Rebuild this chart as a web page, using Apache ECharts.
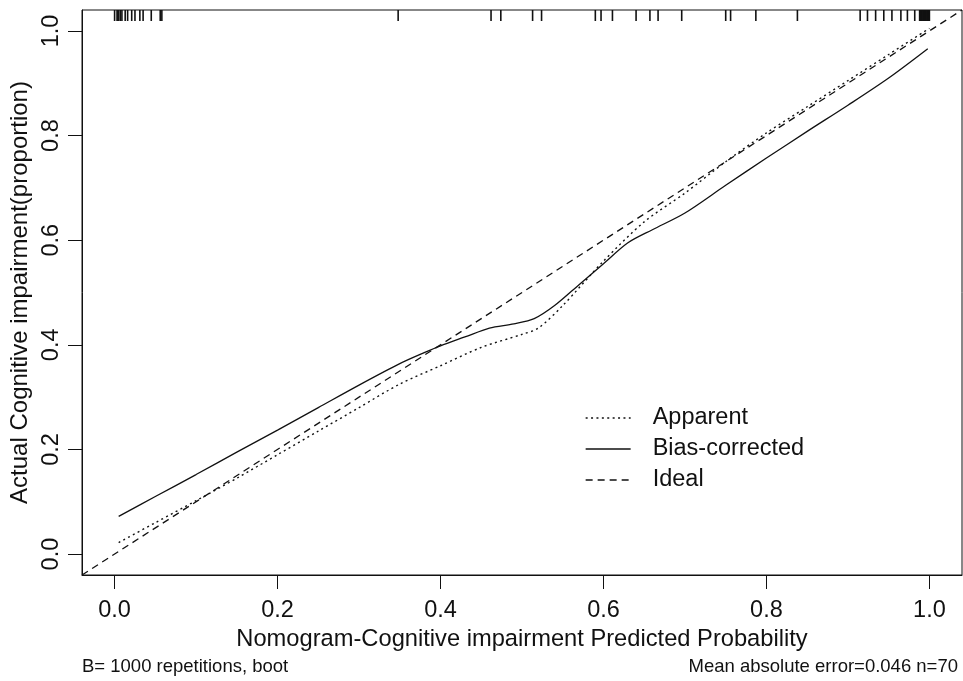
<!DOCTYPE html>
<html>
<head>
<meta charset="utf-8">
<script src="https://cdn.jsdelivr.net/npm/echarts@6/dist/echarts.min.js"></script>
<style>
  html, body { margin: 0; padding: 0; background: #fff; }
  #chart { width: 963px; height: 681px; }
</style>
</head>
<body>
<div id="chart"></div>
<script>
// calibration curves
const apparentX = [0.005, 0.05, 0.1, 0.15, 0.2, 0.25, 0.3, 0.35, 0.4, 0.45, 0.5, 0.52, 0.55, 0.6, 0.65, 0.7, 0.75, 0.8, 0.85, 0.9, 0.95, 1.0];
const apparentY = [0.022, 0.06, 0.102, 0.145, 0.19, 0.235, 0.28, 0.325, 0.36, 0.395, 0.42, 0.432, 0.475, 0.56, 0.635, 0.69, 0.75, 0.805, 0.855, 0.905, 0.955, 1.005];

const biasX = [0.005, 0.05, 0.1, 0.15, 0.2, 0.25, 0.3, 0.35, 0.38, 0.4, 0.43, 0.46, 0.49, 0.515, 0.54, 0.57, 0.6, 0.63, 0.66, 0.7, 0.75, 0.8, 0.85, 0.9, 0.95, 0.998];
const biasY = [0.072, 0.11, 0.152, 0.195, 0.237, 0.28, 0.323, 0.364, 0.385, 0.398, 0.415, 0.432, 0.44, 0.45, 0.475, 0.515, 0.555, 0.595, 0.62, 0.652, 0.705, 0.757, 0.808, 0.858, 0.91, 0.966];

const idealX = [-0.04, 1.04];

// rug of predicted probabilities along the top
const rugX = [0.0, 0.003, 0.004, 0.005, 0.007, 0.009, 0.013, 0.016, 0.021, 0.025, 0.031, 0.035, 0.045, 0.056, 0.058,
  0.348, 0.462, 0.474, 0.513, 0.524,
  0.590, 0.597, 0.611, 0.640, 0.657, 0.667, 0.696, 0.750, 0.756, 0.787, 0.838,
  0.915, 0.924, 0.934, 0.944, 0.954, 0.965, 0.973, 0.982,
  0.988, 0.989, 0.990, 0.991, 0.992, 0.993, 0.994, 0.995, 0.996, 0.997, 0.998, 0.999, 1.0];

const tickValues = [0, 0.2, 0.4, 0.6, 0.8, 1.0];
const axisMin = -0.04;
const axisMax = 1.04;

const ink = '#111';
const font = 'Liberation Sans, Arial, sans-serif';

const chart = echarts.init(document.getElementById('chart'));

const zip = (xs, ys) => xs.map((x, i) => [x, ys[i]]);

const option = {
    animation: false,
    backgroundColor: '#fff',
    color: [ink, ink, ink],
    textStyle: { fontFamily: font, color: ink },
    grid: {
        left: 82, right: 1, top: 10, bottom: 106,
        outerBoundsMode: 'none',
        containLabel: false,
        show: true, borderColor: ink, borderWidth: 1
    },
    xAxis: {
        type: 'value',
        min: axisMin, max: axisMax,
        name: 'Nomogram-Cognitive impairment Predicted Probability',
        nameLocation: 'middle',
        nameGap: 46,
        nameTextStyle: { fontSize: 23.7, color: ink, fontFamily: font },
        axisLine: { show: true, onZero: false, lineStyle: { color: ink, width: 1 } },
        axisTick: { show: true, length: 14, customValues: tickValues, lineStyle: { color: ink } },
        axisLabel: {
            customValues: tickValues, margin: 24, fontSize: 23.5, color: ink, fontFamily: font,
            formatter: v => v.toFixed(1)
        },
        splitLine: { show: false }
    },
    yAxis: {
        type: 'value',
        min: axisMin, max: axisMax,
        name: 'Actual Cognitive impairment(proportion)',
        nameLocation: 'middle',
        nameRotate: 90,
        nameGap: 30,
        nameTextStyle: { fontSize: 24, color: ink, fontFamily: font },
        axisLine: { show: true, onZero: false, lineStyle: { color: ink, width: 1 } },
        axisTick: { show: true, length: 14, customValues: tickValues, lineStyle: { color: ink } },
        axisLabel: {
            customValues: tickValues, margin: 18, rotate: 90, fontSize: 23.5, color: ink, fontFamily: font,
            formatter: v => v.toFixed(1)
        },
        splitLine: { show: false }
    },
    legend: {
        data: ['Apparent', 'Bias-corrected', 'Ideal'],
        orient: 'vertical',
        left: 585, top: 406,
        padding: 0,
        itemWidth: 45, itemHeight: 14, itemGap: 7,
        itemStyle: { opacity: 0 },
        lineStyle: { width: 1.3 },
        textStyle: { fontSize: 23.5, lineHeight: 21, color: ink, fontFamily: font, padding: [0, 0, 0, 17] }
    },
    series: [
        {
            name: 'Apparent', type: 'line', data: zip(apparentX, apparentY),
            showSymbol: false, symbol: 'none', smooth: 0.3,
            itemStyle: { color: ink },
            lineStyle: { color: ink, width: 1.4, type: [2, 3.4] }
        },
        {
            name: 'Bias-corrected', type: 'line', data: zip(biasX, biasY),
            showSymbol: false, symbol: 'none', smooth: 0.3,
            itemStyle: { color: ink },
            lineStyle: { color: ink, width: 1.3, type: 'solid' }
        },
        {
            name: 'Ideal', type: 'line', data: zip(idealX, idealX),
            showSymbol: false, symbol: 'none', clip: true,
            itemStyle: { color: ink },
            lineStyle: { color: ink, width: 1.3, type: [7, 5] }
        },
        {
            type: 'custom', name: 'rug', silent: true,
            data: rugX.map(x => [x, axisMax]),
            renderItem: (params, api) => {
                const p = api.coord([api.value(0), api.value(1)]);
                return {
                    type: 'line',
                    shape: { x1: p[0], y1: p[1], x2: p[0], y2: p[1] + 11 },
                    style: { stroke: ink, lineWidth: 1.6 }
                };
            }
        }
    ],
    graphic: [
        {
            type: 'text', left: 82, top: 657,
            style: { text: 'B= 1000 repetitions, boot', font: '18.5px ' + font, fill: ink }
        },
        {
            type: 'text', right: 5, top: 657,
            style: { text: 'Mean absolute error=0.046 n=70', font: '18.5px ' + font, fill: ink }
        }
    ]
};

chart.setOption(option);
</script>
</body>
</html>
